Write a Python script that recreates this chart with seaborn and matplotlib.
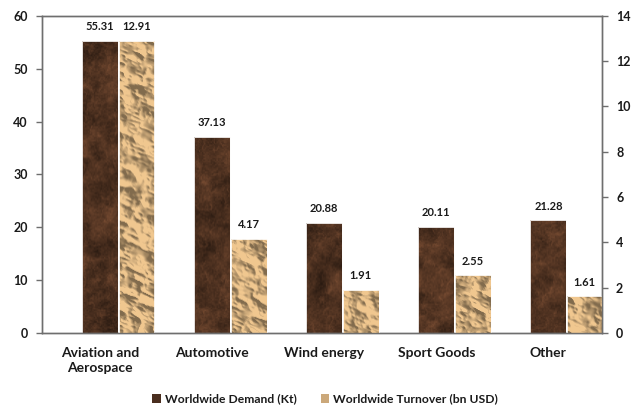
import numpy as np
import pandas as pd
import matplotlib
matplotlib.use("Agg")
import matplotlib.pyplot as plt
import seaborn as sns
from matplotlib.patches import Patch
from matplotlib import font_manager as fm

sns.set_style("white")


def pick_bold_family(candidates):
    for fam in candidates:
        try:
            path = fm.findfont(fm.FontProperties(family=fam, weight="bold"),
                               fallback_to_default=False)
        except Exception:
            continue
        name = path.lower()
        if "bold" in name or "-b." in name or "bd." in name:
            return fam
    return "DejaVu Sans"


FAMILY = pick_bold_family(["Lato", "Open Sans", "Roboto", "Noto Sans", "Liberation Sans"])
plt.rcParams["font.family"] = [FAMILY, "DejaVu Sans"]
plt.rcParams["font.weight"] = "bold"

categories = ["Aviation and\nAerospace", "Automotive", "Wind energy", "Sport Goods", "Other"]
demand_kt = [55.31, 37.13, 20.88, 20.11, 21.28]
turnover_bn = [12.91, 4.17, 1.91, 2.55, 1.61]
left_ticks = [0, 10, 20, 30, 40, 50, 60]
right_ticks = [0, 2, 4, 6, 8, 10, 12, 14]

DARK = "#4a2e1f"
LIGHT = "#cba87a"
AXIS = "#6e6e6e"
TEXT = "#1a1a1a"
BAR_W = 0.32

idx = np.arange(len(categories))
df_demand = pd.DataFrame({"pos": idx.astype(float), "value": demand_kt})
df_turn = pd.DataFrame({"pos": idx + BAR_W + 0.005, "value": turnover_bn})

fig = plt.figure(figsize=(6.44, 4.08), dpi=100)
ax = fig.add_axes([0.065, 0.184, 0.870, 0.777])
ax2 = ax.twinx()

sns.barplot(data=df_demand, x="pos", y="value", native_scale=True, width=BAR_W,
            color=DARK, saturation=1, edgecolor="white", linewidth=0.6, ax=ax)
sns.barplot(data=df_turn, x="pos", y="value", native_scale=True, width=BAR_W,
            color=LIGHT, saturation=1, edgecolor="white", linewidth=0.6, ax=ax2)

ax.set_ylim(0, 60)
ax2.set_ylim(0, 14)
ax.set_xlim(-0.52, 4.48)


# ---- procedural surface textures (hash-based value noise) ----
def _hash(ix, iy, seed):
    v = np.sin(ix * 127.1 + iy * 311.7 + seed * 74.7) * 43758.5453
    return v - np.floor(v)


def value_noise(x, y, seed):
    ix, iy = np.floor(x), np.floor(y)
    fx, fy = x - ix, y - iy
    ux, uy = fx * fx * (3 - 2 * fx), fy * fy * (3 - 2 * fy)
    a = _hash(ix, iy, seed)
    b = _hash(ix + 1, iy, seed)
    c = _hash(ix, iy + 1, seed)
    d = _hash(ix + 1, iy + 1, seed)
    return a + (b - a) * ux + (c - a) * uy + (a - b - c + d) * ux * uy


def fbm(x, y, seed, octaves=5, ridged=False, gain=0.5):
    total, amp, freq, norm = 0.0, 1.0, 1.0, 0.0
    for o in range(octaves):
        n = value_noise(x * freq, y * freq, seed + o * 13.0)
        if ridged:
            n = 1.0 - np.abs(2 * n - 1)
        total = total + amp * n
        norm += amp
        amp *= gain
        freq *= 2.03
    return total / norm


def paper_texture(xx, yy):
    # crumpled paper: ridged height field lit from the upper left
    u = (xx * 0.8 + yy * 0.5) / 16.0
    v = (yy * 0.9 - xx * 0.4) / 16.0
    hgt = fbm(u, v, 3.0, octaves=3, ridged=True, gain=0.45)
    gy, gx = np.gradient(hgt)
    light = -(gx * 0.75 - gy * 0.65) * 7.0
    lum = 0.97 + light + 0.12 * (hgt - 0.5)
    lum = np.clip(lum, 0.62, 1.15)
    base = np.array([0.82, 0.68, 0.49])
    return np.clip(base[None, None, :] * lum[..., None], 0, 1)


def stone_texture(xx, yy):
    # dark mottled marble: low-frequency blotches plus fine grain
    blot = fbm(xx / 16.0, yy / 16.0, 11.0, octaves=4, gain=0.55)
    vein = fbm(xx / 8.0 + 2 * blot, yy / 12.0, 29.0, octaves=3, ridged=True)
    grain = value_noise(xx / 1.5, yy / 1.5, 47.0)
    lum = (1.0 + 1.0 * (blot - 0.5) + 0.9 * np.clip(vein - 0.7, 0, 1)
           + 0.25 * (grain - 0.5))
    base = np.array([0.30, 0.19, 0.125])
    return np.clip(base[None, None, :] * lum[..., None], 0, 1)


def texture_bars(axis, maker):
    for patch in axis.patches:
        x0, y0 = patch.get_x(), patch.get_y()
        w, h = patch.get_width(), patch.get_height()
        (px0, py0), (px1, py1) = axis.transData.transform([(x0, y0), (x0 + w, y0 + h)])
        nw = max(int(round(px1 - px0)), 2)
        nh = max(int(round(py1 - py0)), 2)
        xs = np.linspace(px0, px1, nw)
        ys = np.linspace(py1, py0, nh)
        xx, yy = np.meshgrid(xs, ys)
        img = maker(xx, -yy)
        im = axis.imshow(img, extent=(x0, x0 + w, y0, y0 + h), aspect="auto",
                         origin="upper", zorder=patch.get_zorder() + 0.1,
                         interpolation="bilinear")
        im.set_clip_path(patch)
        edge = plt.Rectangle((x0, y0), w, h, fill=False, edgecolor="white",
                             linewidth=0.6, zorder=patch.get_zorder() + 0.2)
        axis.add_patch(edge)


texture_bars(ax, stone_texture)
texture_bars(ax2, paper_texture)

ax.set_ylim(0, 60)
ax2.set_ylim(0, 14)
ax.set_xlim(-0.52, 4.48)
ax.set_yticks(left_ticks)
ax2.set_yticks(right_ticks)
ax.set_xticks(idx)
ax.set_xticklabels(categories, fontsize=10, fontweight="bold", color=TEXT, linespacing=1.3)
ax.set_xlabel("")
ax.set_ylabel("")
ax2.set_ylabel("")

for a in (ax, ax2):
    for s in a.spines.values():
        s.set_color(AXIS)
        s.set_linewidth(1.0)
        s.set_visible(True)
    a.tick_params(axis="y", length=4, width=1.0, color=AXIS, labelsize=9,
                  labelcolor=TEXT, pad=6)
    a.grid(False)
for lab in ax.get_yticklabels() + ax2.get_yticklabels():
    lab.set_fontweight("bold")
ax.tick_params(axis="x", length=0, pad=10)
ax.tick_params(axis="y", left=True, direction="out")
ax2.tick_params(axis="y", right=True, direction="out")

# value labels above each bar
ax.bar_label(ax.containers[0], labels=[f"{x:.2f}" for x in demand_kt], padding=6,
             fontsize=8, fontweight="bold", color=TEXT)
ax2.bar_label(ax2.containers[0], labels=[f"{x:.2f}" for x in turnover_bn], padding=6,
              fontsize=8, fontweight="bold", color=TEXT)

handles = [Patch(facecolor=DARK, edgecolor="none"),
           Patch(facecolor=LIGHT, edgecolor="none")]
fig.legend(handles, ["Worldwide Demand (Kt)", "Worldwide Turnover (bn USD)"],
           loc="center", bbox_to_anchor=(0.505, 0.022), ncol=2, frameon=False,
           prop={"size": 8.7, "weight": "bold"}, handlelength=0.7, handleheight=0.7,
           handletextpad=0.35, columnspacing=2.0, labelcolor=TEXT)

fig.savefig("out.png", dpi=100)
